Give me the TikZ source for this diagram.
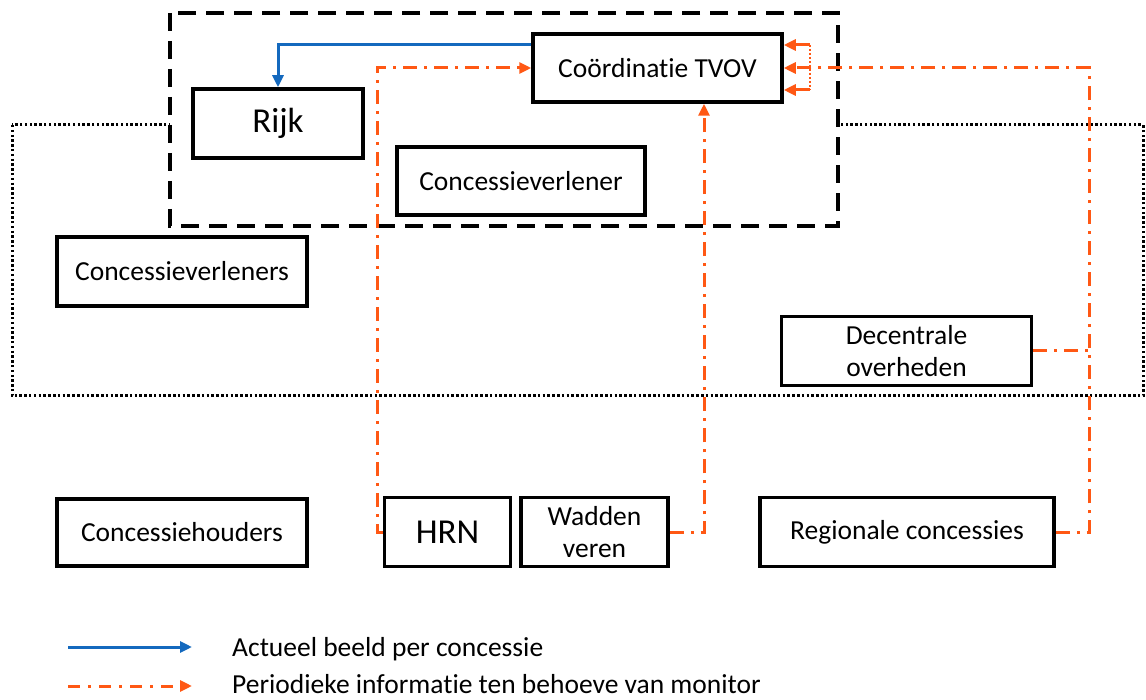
\documentclass[tikz,border=0pt]{standalone}
\usepackage{fontspec}
\setmainfont{Carlito}[Ligatures=NoCommon]
\usetikzlibrary{arrows.meta}
\definecolor{cblue}{RGB}{20,105,190}
\definecolor{corange}{RGB}{255,88,20}
\begin{document}
\begin{tikzpicture}[x=1pt,y=-1pt,
  box/.style={draw=black, line width=3.5pt, inner sep=0pt, align=center,
    font=\fontsize{27.5}{32.5}\selectfont, fill=white},
  bigbox/.style={box, font=\fontsize{35}{40}\selectfont},
  tip/.style={-{Triangle[length=12pt,width=11pt]}},
  orangeline/.style={draw=corange, line width=3pt, tip,
    dash pattern=on 14pt off 7pt on 3pt off 7pt},
  orangestub/.style={draw=corange, line width=3pt, tip},
  orangedots/.style={draw=corange, line width=2.2pt, dash pattern=on 2pt off 2pt},
  blueline/.style={draw=cblue, line width=3pt, tip},
  dashedframe/.style={draw=black, line width=3.5pt, dash pattern=on 18pt off 10pt, fill=white},
  dottedframe/.style={draw=black, line width=3pt, dash pattern=on 2.5pt off 2.3pt},
  legendtext/.style={anchor=base west, inner sep=0pt, font=\fontsize{27.5}{33}\selectfont}
]
\useasboundingbox (0,0) rectangle (1146,700);
\fill[white] (0,0) rectangle (1146,700);

% frames
\draw[dottedframe] (12,125) rectangle (1143,396);
\draw[dashedframe] (170,13) rectangle (838,226);

% nodes
\node[box, minimum width=249pt, minimum height=68pt] (tvov) at (657.5,68) {Coördinatie TVOV};
\node[bigbox, minimum width=170pt, minimum height=69pt] (rijk) at (278,123.5) {Rijk};
\node[box, minimum width=248pt, minimum height=68pt] (verlener) at (521,181) {Concessieverlener};
\node[box, minimum width=250pt, minimum height=69pt] (verleners) at (182,271.5) {Concessieverleners};
\node[box, minimum width=250pt, minimum height=69pt] (decentrale) at (906.5,351) {Decentrale\\overheden};
\node[box, minimum width=250pt, minimum height=67pt] (houders) at (182,532.5) {Concessiehouders};
\node[bigbox, minimum width=126pt, minimum height=69pt] (hrn) at (447.5,532) {HRN};
\node[box, minimum width=147pt, minimum height=69pt] (wadden) at (594.5,532) {Wadden\\veren};
\node[box, minimum width=294pt, minimum height=69pt] (regionale) at (907,532) {Regionale concessies};

% connectors
\coordinate (hrnbend) at (377,532);
\coordinate (waddenbend) at (704,532);
\coordinate (regbend) at (1089,532);
\coordinate (tvovNE) at ([yshift=23pt]tvov.east);
\coordinate (tvovSE) at ([yshift=-22pt]tvov.east);
\coordinate (loopT) at ([xshift=26pt]tvovNE);
\coordinate (loopB) at ([xshift=26pt]tvovSE);

\draw[blueline] ([yshift=23pt]tvov.west) -| (rijk.north);

\draw[orangeline] (hrn.west) -- (hrnbend) |- (tvov.west);
\draw[orangeline] (wadden.east) -- (waddenbend) -- (waddenbend |- tvov.south);
\draw[orangeline] (regionale.east) -- (regbend) |- (tvov.east);
\draw[orangeline, -] (decentrale.east) -- (decentrale.east -| regbend);

\draw[orangedots] (loopT) -- (loopB);
\draw[orangestub] (loopT) -- (tvovNE);
\draw[orangestub] (loopB) -- (tvovSE);

% legend
\coordinate (l1a) at (68,647);
\coordinate (l1b) at (192,647);
\coordinate (l2a) at (68,686);
\coordinate (l2b) at (192,686);
\draw[blueline] (l1a) -- (l1b);
\draw[orangeline, dash pattern=on 12pt off 8pt on 3pt off 8pt] (l2a) -- (l2b);
\node[legendtext] (lt1) at (232,656) {Actueel beeld per concessie};
\node[legendtext] (lt2) at (232,693) {Periodieke informatie ten behoeve van monitor};
\end{tikzpicture}
\end{document}
